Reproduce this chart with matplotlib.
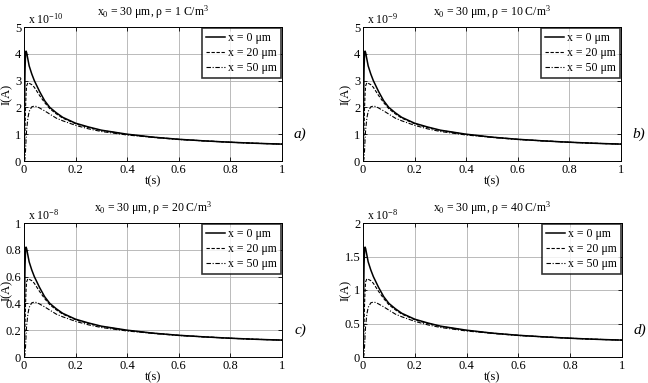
import matplotlib
matplotlib.use("Agg")
import matplotlib.pyplot as plt

plt.rcParams['font.family'] = ['Liberation Serif', 'DejaVu Serif']
plt.rcParams['mathtext.fontset'] = 'custom'
plt.rcParams['mathtext.rm'] = 'Liberation Serif'
plt.rcParams['mathtext.it'] = 'Liberation Serif:italic'

t = [0, 0.002, 0.004, 0.006, 0.008, 0.01, 0.015, 0.02, 0.03, 0.04, 0.05, 0.06, 0.08,
     0.1, 0.125, 0.15, 0.2, 0.25, 0.3, 0.4, 0.5, 0.6, 0.7, 0.8, 0.9, 1.0]

# panel a (x 1e-10 A), rho = 1 C/m^3
a_x0 = [0, 2.0, 3.4, 4.0, 4.1, 4.05, 3.8, 3.55, 3.25, 3.0, 2.8, 2.6, 2.25, 2.0, 1.8, 1.63,
        1.41, 1.27, 1.15, 1.0, 0.89, 0.81, 0.75, 0.7, 0.66, 0.63]
a_x20 = [0, 0.3, 1.2, 2.0, 2.5, 2.8, 2.92, 2.9, 2.85, 2.75, 2.6, 2.45, 2.18, 1.95, 1.76, 1.6,
         1.39, 1.25, 1.14, 0.99, 0.89, 0.81, 0.75, 0.7, 0.66, 0.63]
a_x50 = [0, 0, 0.1, 0.4, 0.8, 1.15, 1.6, 1.85, 2.02, 2.05, 2.03, 1.98, 1.87, 1.75, 1.6, 1.5,
         1.33, 1.2, 1.1, 0.97, 0.88, 0.8, 0.75, 0.7, 0.66, 0.63]

# panel b (x 1e-9 A), rho = 10 C/m^3
b_x0 = [0, 2.0, 3.4, 4.0, 4.1, 4.05, 3.8, 3.55, 3.25, 3.0, 2.8, 2.6, 2.25, 2.0, 1.8, 1.63,
        1.41, 1.27, 1.15, 1.0, 0.89, 0.81, 0.75, 0.7, 0.66, 0.63]
b_x20 = [0, 0.3, 1.2, 2.0, 2.5, 2.8, 2.92, 2.9, 2.85, 2.75, 2.6, 2.45, 2.18, 1.95, 1.76, 1.6,
         1.39, 1.25, 1.14, 0.99, 0.89, 0.81, 0.75, 0.7, 0.66, 0.63]
b_x50 = [0, 0, 0.1, 0.4, 0.8, 1.15, 1.6, 1.85, 2.02, 2.05, 2.03, 1.98, 1.87, 1.75, 1.6, 1.5,
         1.33, 1.2, 1.1, 0.97, 0.88, 0.8, 0.75, 0.7, 0.66, 0.63]

# panel c (x 1e-8 A), rho = 20 C/m^3
c_x0 = [0, 0.40, 0.68, 0.80, 0.82, 0.81, 0.76, 0.71, 0.65, 0.60, 0.56, 0.52, 0.45, 0.40, 0.36,
        0.326, 0.282, 0.254, 0.23, 0.20, 0.178, 0.162, 0.15, 0.14, 0.132, 0.126]
c_x20 = [0, 0.06, 0.24, 0.40, 0.50, 0.56, 0.584, 0.58, 0.57, 0.55, 0.52, 0.49, 0.436, 0.39,
         0.352, 0.32, 0.278, 0.25, 0.228, 0.198, 0.178, 0.162, 0.15, 0.14, 0.132, 0.126]
c_x50 = [0, 0, 0.02, 0.08, 0.16, 0.23, 0.32, 0.37, 0.404, 0.41, 0.406, 0.396, 0.374, 0.35,
         0.32, 0.30, 0.266, 0.24, 0.22, 0.194, 0.176, 0.16, 0.15, 0.14, 0.132, 0.126]

# panel d (x 1e-8 A), rho = 40 C/m^3
d_x0 = [0, 0.8, 1.36, 1.6, 1.64, 1.62, 1.52, 1.42, 1.30, 1.20, 1.12, 1.04, 0.90, 0.80, 0.72,
        0.652, 0.564, 0.508, 0.46, 0.40, 0.356, 0.324, 0.30, 0.28, 0.264, 0.252]
d_x20 = [0, 0.12, 0.48, 0.8, 1.0, 1.12, 1.168, 1.16, 1.14, 1.10, 1.04, 0.98, 0.872, 0.78,
         0.704, 0.64, 0.556, 0.50, 0.456, 0.396, 0.356, 0.324, 0.30, 0.28, 0.264, 0.252]
d_x50 = [0, 0, 0.04, 0.16, 0.32, 0.46, 0.64, 0.74, 0.808, 0.82, 0.812, 0.792, 0.748, 0.70,
         0.64, 0.60, 0.532, 0.48, 0.44, 0.388, 0.352, 0.32, 0.30, 0.28, 0.264, 0.252]

titles = ['x$_0$ = 30 μm, ρ = 1 C/m$^3$',
          'x$_0$ = 30 μm, ρ = 10 C/m$^3$',
          'x$_0$ = 30 μm, ρ = 20 C/m$^3$',
          'x$_0$ = 30 μm, ρ = 40 C/m$^3$']
multipliers = ['x 10$^{-10}$', 'x 10$^{-9}$', 'x 10$^{-8}$', 'x 10$^{-8}$']
panel_tags = ['a)', 'b)', 'c)', 'd)']
legend_labels = ['x = 0 μm', 'x = 20 μm', 'x = 50 μm']
xticks = [0, 0.2, 0.4, 0.6, 0.8, 1.0]
xticklabels = ['0', '0.2', '0.4', '0.6', '0.8', '1']
yticks_list = [[0, 1, 2, 3, 4, 5], [0, 1, 2, 3, 4, 5],
               [0, 0.2, 0.4, 0.6, 0.8, 1.0], [0, 0.5, 1.0, 1.5, 2.0]]
yticklabels_list = [['0', '1', '2', '3', '4', '5'], ['0', '1', '2', '3', '4', '5'],
                    ['0', '0.2', '0.4', '0.6', '0.8', '1'], ['0', '0.5', '1', '1.5', '2']]
series = [(a_x0, a_x20, a_x50), (b_x0, b_x20, b_x50), (c_x0, c_x20, c_x50), (d_x0, d_x20, d_x50)]

W, H = 648, 383
fig = plt.figure(figsize=(W / 100, H / 100), dpi=100)
boxes = [(24, 27, 282, 161), (363, 27, 621, 161), (24, 223, 282, 357), (363, 223, 622, 357)]

for i, (l, tp, r, b) in enumerate(boxes):
    ax = fig.add_axes([l / W, 1 - b / H, (r - l) / W, (b - tp) / H])
    y0, y20, y50 = series[i]
    ax.plot(t, y0, color='black', lw=1.1, ls='-', label=legend_labels[0])
    ax.plot(t, y20, color='black', lw=0.8, ls=(0, (3, 1.5)), label=legend_labels[1])
    ax.plot(t, y50, color='black', lw=0.8, ls=(0, (4, 1.5, 1, 1.5)), label=legend_labels[2])
    ax.set_xlim(0, 1)
    yt = yticks_list[i]
    ax.set_ylim(yt[0], yt[-1])
    ax.set_xticks(xticks)
    ax.set_xticklabels(xticklabels)
    ax.set_yticks(yt)
    ax.set_yticklabels(yticklabels_list[i])
    ax.tick_params(direction='in', top=True, right=True, labelsize=9, length=3, width=0.6, pad=2)
    ax.grid(True, color='#b0b0b0', lw=0.6)
    for s in ax.spines.values():
        s.set_linewidth(0.7)
    ax.set_title(titles[i], fontsize=8.5, pad=8)
    ax.text(0.015, 1.0, multipliers[i], transform=ax.transAxes, fontsize=8.5,
            ha='left', va='bottom')
    ax.set_xlabel('t(s)', fontsize=9, labelpad=0)
    ax.set_ylabel('I(A)', fontsize=9)
    ax.yaxis.set_label_coords(-0.045, 0.5)
    ax.text(1.07, 0.2, panel_tags[i], transform=ax.transAxes, fontsize=11,
            style='italic', ha='center', va='center')
    leg = ax.legend(loc='upper right', fontsize=8.5, frameon=True, fancybox=False,
                    edgecolor='black', borderaxespad=0.1, handlelength=1.6,
                    handletextpad=0.25, labelspacing=0.25, borderpad=0.35)
    leg.get_frame().set_linewidth(1.2)

fig.savefig('out.png', dpi=100)
